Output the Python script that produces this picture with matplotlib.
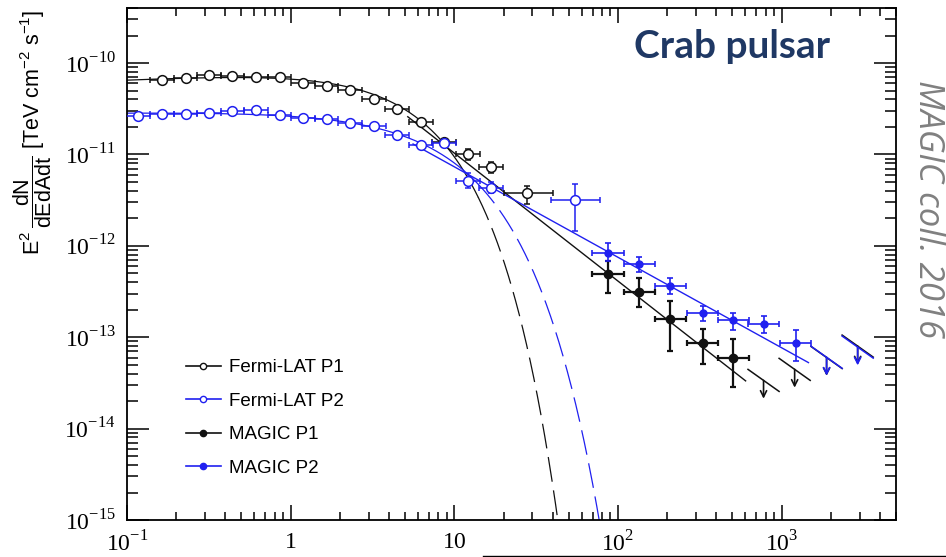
import numpy as np
import matplotlib
matplotlib.use('Agg')
import matplotlib.pyplot as plt
from matplotlib.lines import Line2D
from matplotlib.ticker import LogLocator, FixedLocator, FixedFormatter, NullFormatter

plt.rcParams['font.family'] = ['Liberation Sans', 'DejaVu Sans']
plt.rcParams['mathtext.fontset'] = 'custom'
plt.rcParams['mathtext.rm'] = 'Liberation Serif'
plt.rcParams['mathtext.sf'] = 'Liberation Sans'

BLACK = '#111111'
BLUE = '#2020f0'

# Fermi-LAT P1 (energy in GeV, E^2 dN/dE in TeV cm^-2 s^-1)
lat1_E = [0.164, 0.228, 0.318, 0.441, 0.615, 0.856, 1.19, 1.66, 2.31, 3.22,
          4.48, 6.24, 8.69, 12.1, 16.8]
lat1_F = [6.50e-11, 6.79e-11, 7.33e-11, 7.20e-11, 7.02e-11, 7.02e-11, 6.08e-11,
          5.63e-11, 5.05e-11, 4.06e-11, 3.18e-11, 2.25e-11, 1.36e-11, 1.00e-11, 7.2e-12]
lat1_dex = [0.01, 0.01, 0.01, 0.01, 0.01, 0.01, 0.01, 0.01, 0.012, 0.015,
            0.02, 0.025, 0.035, 0.06, 0.06]

# Fermi-LAT P2
lat2_E = [0.117, 0.164, 0.228, 0.318, 0.441, 0.615, 0.856, 1.19, 1.66, 2.31,
          3.22, 4.48, 6.24, 8.69, 12.1, 16.8]
lat2_F = [2.64e-11, 2.80e-11, 2.80e-11, 2.84e-11, 2.97e-11, 3.05e-11, 2.73e-11,
          2.53e-11, 2.47e-11, 2.23e-11, 2.03e-11, 1.64e-11, 1.26e-11, 1.33e-11,
          5.18e-12, 4.34e-12]
lat2_dex = [0.01, 0.01, 0.01, 0.01, 0.01, 0.01, 0.01, 0.01, 0.01, 0.012,
            0.015, 0.02, 0.03, 0.03, 0.08, 0.06]
lat_half_bin = 0.072  # dex

# last, wider Fermi-LAT bins
lat1_wide = dict(E=27.9, lo=20.0, hi=40.0, F=3.8e-12, Flo=2.9e-12, Fhi=4.5e-12)
lat2_wide = dict(E=55.0, lo=39.2, hi=78.2, F=3.2e-12, Flo=1.44e-12, Fhi=4.7e-12)

# MAGIC P1
magic1_E = [87.0, 135, 209, 329, 508]
magic1_F = [4.92e-13, 3.12e-13, 1.58e-13, 8.6e-14, 6.0e-14]
magic1_hi = [6.84e-13, 4.45e-13, 2.49e-13, 1.22e-13, 9.5e-14]
magic1_lo = [3.05e-13, 2.14e-13, 7.0e-14, 5.05e-14, 2.83e-14]

# MAGIC P2
magic2_E = [87.0, 135, 209, 329, 508, 776, 1219]
magic2_F = [8.38e-13, 6.34e-13, 3.63e-13, 1.84e-13, 1.54e-13, 1.39e-13, 8.6e-14]
magic2_hi = [1.08e-12, 7.57e-13, 4.45e-13, 2.19e-13, 1.84e-13, 1.70e-13, 1.19e-13]
magic2_lo = [6.84e-13, 5.18e-13, 2.97e-13, 1.50e-13, 1.19e-13, 1.11e-13, 5.45e-14]
magic_half_bin = 0.095  # dex

# MAGIC upper limits
ul1_E = [776, 1202, 1884, 2917]
ul1_F = [3.37e-14, 4.45e-14, 6.0e-14, 8.0e-14]
ul2_E = [1884, 2917]
ul2_F = [6.03e-14, 7.8e-14]
ul_slope = -1.27

# Fermi-LAT fits: K E^(2-G) exp(-(E/Ec)^b)
lat1_fit = dict(K=8.03e-11, G=1.9145, Ec=4.62, b=1.1)
lat2_fit = dict(K=2.99e-11, G=1.982, Ec=7.4, b=1.0)
fit_solid_max = 14.0

# joint power-law fits above 10 GeV, normalised at 100 GeV
pl1 = dict(F100=4.12e-13, slope=-1.40, Emin=5.2, Emax=603)
pl2 = dict(F100=7.5e-13, slope=-0.99, Emin=5.6, Emax=1460)


def cutoff(E, K, G, Ec, b):
    return K * E ** (2 - G) * np.exp(-(E / Ec) ** b)


fig = plt.figure(figsize=(9.46, 5.57), dpi=100)
ax = fig.add_axes([0.1342, 0.0664, 0.8129, 0.9192])
ax.set_xscale('log')
ax.set_yscale('log')
ax.set_xlim(0.1, 5000)
ax.set_ylim(1e-15, 4.0e-10)

# fit curves
for fit, col, emax in [(lat1_fit, BLACK, 60), (lat2_fit, BLUE, 100)]:
    e1 = np.logspace(-1.05, np.log10(fit_solid_max), 200)
    ax.plot(e1, cutoff(e1, **fit), color=col, lw=0.9, zorder=2)
    e2 = np.logspace(np.log10(fit_solid_max), np.log10(emax), 200)
    ax.plot(e2, cutoff(e2, **fit), color=col, lw=0.9, dashes=(20, 7), zorder=2)

for pl, col in [(pl1, BLACK), (pl2, BLUE)]:
    e = np.logspace(np.log10(pl['Emin']), np.log10(pl['Emax']), 50)
    ax.plot(e, pl['F100'] * (e / 100.0) ** pl['slope'], color=col, lw=1.0, zorder=2)

# Fermi-LAT points
for E, F, dex, col in [(lat1_E, lat1_F, lat1_dex, BLACK), (lat2_E, lat2_F, lat2_dex, BLUE)]:
    E = np.array(E)
    F = np.array(F)
    dex = np.array(dex)
    xerr = [E * (1 - 10 ** -lat_half_bin), E * (10 ** lat_half_bin - 1)]
    yerr = [F * (1 - 10 ** -dex), F * (10 ** dex - 1)]
    ax.errorbar(E, F, xerr=xerr, yerr=yerr, fmt='o', color=col, mfc='white',
                mec=col, ms=7, mew=1.1, elinewidth=1.1, capsize=2.5, capthick=1.1, zorder=4)

for w, col in [(lat1_wide, BLACK), (lat2_wide, BLUE)]:
    ax.errorbar([w['E']], [w['F']], xerr=[[w['E'] - w['lo']], [w['hi'] - w['E']]],
                yerr=[[w['F'] - w['Flo']], [w['Fhi'] - w['F']]], fmt='o', color=col,
                mfc='white', mec=col, ms=7, mew=1.1, elinewidth=1.1, capsize=2.5,
                capthick=1.1, zorder=4)

# MAGIC points
for E, F, hi, lo, col, lw, ms in [(magic1_E, magic1_F, magic1_hi, magic1_lo, BLACK, 1.6, 6),
                                  (magic2_E, magic2_F, magic2_hi, magic2_lo, BLUE, 1.2, 5)]:
    E = np.array(E, dtype=float)
    F = np.array(F)
    xerr = [E * (1 - 10 ** -magic_half_bin), E * (10 ** magic_half_bin - 1)]
    yerr = [F - np.array(lo), np.array(hi) - F]
    ax.errorbar(E, F, xerr=xerr, yerr=yerr, fmt='o', color=col, ms=ms,
                elinewidth=lw, capsize=2.5, capthick=lw, zorder=5)

# upper limits: short segment over the bin plus a down arrow
for E_list, F_list, col in [(ul1_E, ul1_F, BLACK), (ul2_E, ul2_F, BLUE)]:
    for E, F in zip(E_list, F_list):
        e = np.array([E * 10 ** -magic_half_bin, E * 10 ** magic_half_bin])
        ax.plot(e, F * (e / E) ** ul_slope, color=col, lw=1.1, zorder=3)
        ax.annotate('', xy=(E, F * 10 ** -0.2), xytext=(E, F),
                    arrowprops=dict(arrowstyle='->', color=col, lw=1.2,
                                    shrinkA=0, shrinkB=0, mutation_scale=11), zorder=3)

# axes styling
for s in ax.spines.values():
    s.set_linewidth(1.3)
ax.xaxis.set_major_locator(FixedLocator([0.1, 1, 10, 100, 1000]))
ax.xaxis.set_major_formatter(FixedFormatter([r'$10^{-1}$', r'$1$', r'$10$', r'$10^{2}$', r'$10^{3}$']))
ax.xaxis.set_minor_locator(LogLocator(base=10, subs=np.arange(2, 10), numticks=20))
ax.xaxis.set_minor_formatter(NullFormatter())
yt = [1e-15, 1e-14, 1e-13, 1e-12, 1e-11, 1e-10]
ax.yaxis.set_major_locator(FixedLocator(yt))
ax.yaxis.set_major_formatter(FixedFormatter([r'$10^{-15}$', r'$10^{-14}$', r'$10^{-13}$',
                                             r'$10^{-12}$', r'$10^{-11}$', r'$10^{-10}$']))
ax.yaxis.set_minor_locator(LogLocator(base=10, subs=np.arange(2, 10), numticks=20))
ax.yaxis.set_minor_formatter(NullFormatter())
ax.tick_params(which='both', direction='in', top=True, right=True, width=1.1, labelsize=17)
ax.tick_params(axis='x', which='major', length=11, pad=8)
ax.tick_params(axis='x', which='minor', length=5.5)
ax.tick_params(axis='y', which='major', length=16, pad=8)
ax.tick_params(axis='y', which='minor', length=8)

# legend
handles = [
    Line2D([], [], color=BLACK, lw=1.2, marker='o', ms=4.5, mfc='white', mec=BLACK),
    Line2D([], [], color=BLUE, lw=1.2, marker='o', ms=4.5, mfc='white', mec=BLUE),
    Line2D([], [], color=BLACK, lw=1.2, marker='o', ms=4.5),
    Line2D([], [], color=BLUE, lw=1.2, marker='o', ms=4.5),
]
ax.legend(handles, ['Fermi-LAT P1', 'Fermi-LAT P2', 'MAGIC P1', 'MAGIC P2'],
          loc='upper left', bbox_to_anchor=(186 / 946, 1 - 359 / 557),
          bbox_transform=fig.transFigure, frameon=False, fontsize=13.5,
          handlelength=1.85, handletextpad=0.45, labelspacing=0.88,
          borderpad=0, borderaxespad=0)

# axis label and annotations
fig.text(0.035, 0.763,
         r'$\mathsf{E^{2}\,\dfrac{dN}{dEdAdt}}$ [TeV cm$^{\mathsf{-2}}$ s$^{\mathsf{-1}}$]',
         rotation=90, ha='center', va='center', fontsize=15.5)
fig.text(0.877, 0.896, 'Crab pulsar', ha='right', va='baseline', fontsize=28,
         fontweight='bold', family=['Lato', 'DejaVu Sans'], color='#1f3864')
fig.text(0.981, 0.625, 'MAGIC coll. 2016', rotation=-90, ha='center', va='center',
         fontsize=25, style='italic', family=['Open Sans', 'DejaVu Sans'], color='#808080')
fig.add_artist(Line2D([483 / 946, 1.0], [1.5 / 557, 1.5 / 557], transform=fig.transFigure,
                      color='black', lw=1.0))

fig.savefig('out.png', dpi=100)
